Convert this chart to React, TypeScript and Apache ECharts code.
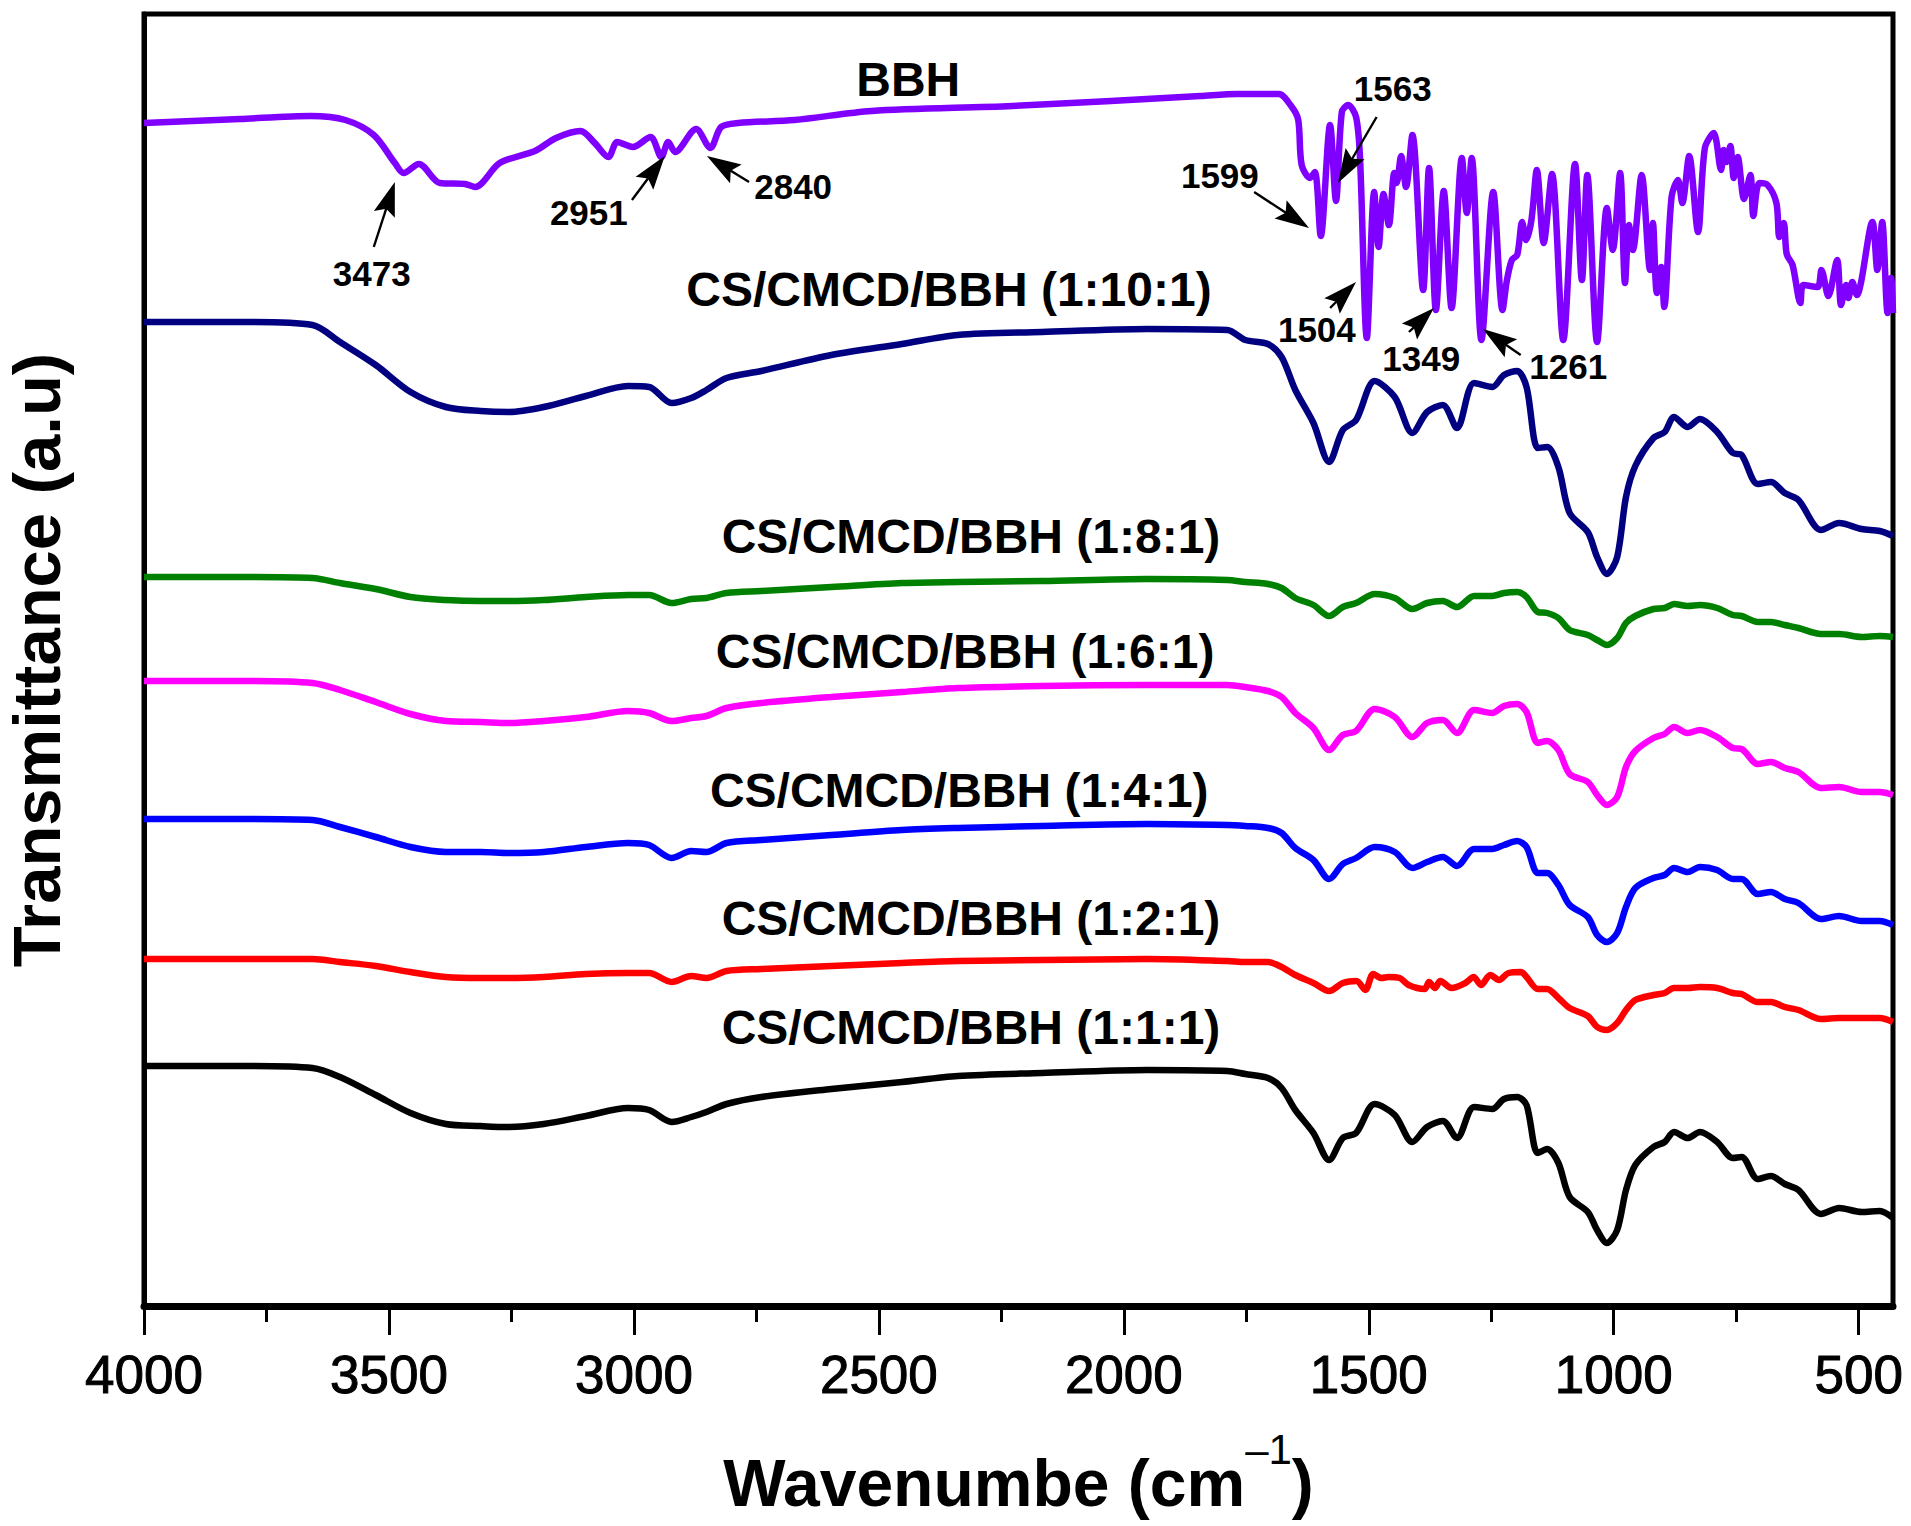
import React, { useEffect, useRef } from "react";
import * as echarts from "echarts";

const majorTicks = [4000, 3500, 3000, 2500, 2000, 1500, 1000, 500];
const minorTicks = [3750, 3250, 2750, 2250, 1750, 1250, 750];

const blendWavenumber = [4000,3786,3656,3600,3527,3456,3384,3313,3255,3184,3098,3012,2969,2923,2883,2852,2811,2740,2597,2453,2339,2167,1952,1789,1752,1706,1678,1650,1613,1581,1553,1526,1488,1447,1411,1381,1349,1320,1285,1248,1224,1197,1178,1155,1136,1113,1090,1053,1034,1014,993,975,956,919,896,877,849,824,789,757,739,706,679,651,623,577,540,494,457,430];
const blend1101 = [984,984,981,964,941,914,899,895,894,899,910,920,919,903,908,916,928,935,951,962,971,974,977,976,966,962,949,916,883,844,876,886,925,909,873,894,901,878,923,919,931,935,919,858,859,839,793,774,749,732,749,809,840,868,874,889,879,887,874,853,851,822,824,813,806,776,783,777,775,770];
const blend181 = [729,729,728,723,717,709,706,705,705,706,709,711,711,703,707,708,713,715,719,723,724,725,727,726,724,722,718,708,701,690,699,703,712,708,697,703,705,699,710,710,713,714,709,694,693,688,676,671,666,661,668,683,690,697,698,702,700,701,698,691,690,684,684,681,678,672,672,669,670,669];
const blend161 = [625,625,623,616,604,592,585,584,583,585,589,595,593,585,588,590,598,603,609,614,618,620,621,621,619,615,609,593,578,556,571,575,597,589,569,583,586,573,596,593,600,602,594,563,565,556,532,524,511,501,509,539,555,568,572,579,573,576,569,558,557,542,544,538,534,518,519,514,514,511];
const blend141 = [487,487,486,479,469,459,454,454,453,454,459,463,461,448,455,454,463,466,471,476,478,480,482,481,480,478,473,458,446,427,442,448,459,454,438,444,449,440,457,457,461,465,459,433,433,421,401,389,371,364,373,399,418,428,431,438,434,439,436,427,427,412,414,407,403,387,390,385,385,381];
const blend111 = [240,240,238,229,211,193,182,180,179,182,190,198,196,184,189,194,202,209,217,224,230,233,236,235,232,228,218,196,173,146,168,173,202,191,164,179,185,168,199,197,207,209,201,153,157,143,109,94,76,63,76,116,141,159,164,174,168,174,164,148,149,127,130,122,116,92,98,94,95,88];

const redWavenumber = [4000,3786,3656,3600,3527,3456,3384,3313,3255,3184,3098,3012,2969,2923,2883,2852,2811,2740,2597,2453,2339,2167,1952,1789,1752,1706,1678,1650,1613,1581,1553,1525,1507,1491,1474,1460,1437,1419,1386,1377,1365,1354,1331,1303,1286,1271,1252,1234,1215,1189,1178,1155,1136,1113,1090,1053,1034,1014,993,975,956,919,896,877,849,824,789,757,739,706,679,651,623,577,540,494,457,430];
const blend121 = [347,347,347,344,340,334,329,328,328,329,332,333,333,324,330,328,335,337,340,343,345,346,347,345,344,344,339,331,323,315,323,325,316,332,328,329,328,321,317,324,318,325,318,323,329,321,331,326,333,334,329,317,317,308,298,290,279,276,283,296,306,311,313,318,318,319,318,313,312,304,304,299,296,287,288,288,288,284];

const bbhWavenumber = [4000,3804,3660,3589,3531,3488,3470,3439,3396,3345,3324,3274,3202,3159,3109,3080,3052,3034,3002,2966,2944,2930,2916,2873,2844,2822,2787,2672,2515,2228,1844,1769,1684,1657,1644,1637,1620,1610,1598,1579,1567,1555,1542,1526,1518,1504,1489,1480,1470,1459,1448,1443,1434,1424,1411,1389,1377,1363,1347,1331,1310,1300,1290,1270,1246,1227,1218,1208,1197,1187,1179,1168,1157,1143,1126,1103,1079,1065,1054,1034,1014,1002,987,977,969,961,943,926,920,912,903,897,882,869,860,846,828,814,796,781,776,770,762,755,747,734,721,715,703,686,668,662,653,647,635,619,613,584,576,562,544,536,526,521,513,504,472,462,452,441,434,430];
const bbhValues = [1183,1187,1190,1186,1171,1143,1133,1142,1123,1122,1119,1143,1155,1168,1175,1163,1149,1164,1159,1169,1149,1164,1154,1177,1158,1179,1183,1186,1195,1200,1210,1212,1212,1199,1186,1141,1128,1134,1070,1181,1105,1194,1201,1189,1149,968,1114,1059,1112,1081,1133,1123,1150,1119,1171,1016,1138,996,1115,998,1148,1093,1148,966,1114,996,1026,1046,1051,1084,1066,1086,1136,1063,1132,966,1142,1026,1131,964,1098,1056,1133,1023,1081,1056,1131,1036,1083,1013,1039,999,1109,1126,1103,1150,1074,1158,1173,1136,1156,1144,1160,1128,1149,1107,1131,1090,1123,1121,1103,1069,1083,1052,1041,1003,1021,1019,1036,1010,1046,1001,1021,1008,1024,1011,1084,1036,1084,993,1028,993];

const seriesNames = ["CS/CMCD/BBH (1:1:1)", "CS/CMCD/BBH (1:2:1)", "CS/CMCD/BBH (1:4:1)", "CS/CMCD/BBH (1:6:1)", "CS/CMCD/BBH (1:8:1)", "CS/CMCD/BBH (1:10:1)", "BBH"];
const seriesColors = ["#000000", "#ff0000", "#0000ff", "#ff00ff", "#008000", "#000080", "#8000ff"];
const seriesValues = [blend111, blend121, blend141, blend161, blend181, blend1101, bbhValues];
const seriesWavenumbers = [blendWavenumber, redWavenumber, blendWavenumber, blendWavenumber, blendWavenumber, blendWavenumber, bbhWavenumber];
const labelX = [2312, 2312, 2336, 2324, 2312, 2357, 2440];
const labelY = [279, 388, 516, 655, 770, 1017, 1227];

const peakNames = ["3473", "2951", "2840", "1599", "1563", "1504", "1349", "1261"];
const peakLabelX = [3535, 3092, 2675, 1804, 1451, 1606, 1393, 1093];
const peakLabelY = [1033, 1094, 1120, 1131, 1218, 977, 948, 940];
const arrowTailX = [3531, 3004, 2765, 1734, 1484, 1579, 1418, 1190];
const arrowTailY = [1059, 1106, 1124, 1114, 1189, 998, 974, 951];
const arrowHeadX = [3488, 2937, 2851, 1622, 1563, 1526, 1367, 1267];
const arrowHeadY = [1124, 1150, 1150, 1078, 1123, 1024, 998, 977];

const FONT = "Liberation Sans";

function renderArrow(_params: any, api: any) {
  const a = api.coord([api.value(0), api.value(1)]);
  const b = api.coord([api.value(2), api.value(3)]);
  const dx = b[0] - a[0];
  const dy = b[1] - a[1];
  const len = Math.hypot(dx, dy) || 1;
  const ux = dx / len;
  const uy = dy / len;
  const headLen = 34;
  const headHalf = 11;
  const notch = 28;
  const bx = b[0] - ux * headLen;
  const by = b[1] - uy * headLen;
  return {
    type: "group",
    children: [
      {
        type: "line",
        shape: { x1: a[0], y1: a[1], x2: b[0] - ux * 20, y2: b[1] - uy * 20 },
        style: { stroke: "#000", lineWidth: 2.4 },
      },
      {
        type: "polygon",
        shape: {
          points: [
            [b[0], b[1]],
            [bx - uy * headHalf, by + ux * headHalf],
            [b[0] - ux * notch, b[1] - uy * notch],
            [bx + uy * headHalf, by - ux * headHalf],
          ],
        },
        style: { fill: "#000" },
      },
    ],
  };
}

export default function App() {
  const ref = useRef<HTMLDivElement | null>(null);
  useEffect(() => {
    const chart = echarts.init(ref.current as HTMLDivElement, undefined, { renderer: "svg" });
    const lines = seriesNames.map((name, i) => ({
      type: "line",
      name,
      data: seriesWavenumbers[i].map((w, j) => [w, seriesValues[i][j]]),
      showSymbol: false,
      smooth: 0.3,
      lineStyle: { color: seriesColors[i], width: 6.5, join: "round" },
      itemStyle: { color: seriesColors[i] },
      silent: true,
      z: 3,
    }));
    const textLabel = (fontSize: number) => ({
      show: true,
      position: [0, 0],
      align: "center",
      verticalAlign: "middle",
      formatter: "{b}",
      fontFamily: FONT,
      fontWeight: "bold",
      fontSize,
      color: "#000000",
      opacity: 1,
    });
    chart.setOption({
      animation: false,
      backgroundColor: "#fff",
      grid: { left: 144, right: 18, top: 14, bottom: 220, show: true, borderColor: "#000", borderWidth: 5, backgroundColor: "transparent", containLabel: false, outerBoundsMode: "none" },
      xAxis: [
        {
          type: "value",
          inverse: true,
          min: 430,
          max: 4000,
          position: "bottom",
          splitLine: { show: false },
          axisLine: { show: true, onZero: false, lineStyle: { color: "#000", width: 7 } },
          axisTick: { show: true, customValues: majorTicks, length: 29, lineStyle: { color: "#000", width: 3 } },
          axisLabel: { show: true, customValues: majorTicks, formatter: (v: number) => String(v), hideOverlap: false, margin: 42, color: "#000", fontFamily: FONT, fontSize: 53, textBorderColor: "#000", textBorderWidth: 1 },
          name: "{a|Wavenumbe (cm}{s|–1}{a|)}",
          nameLocation: "middle",
          nameGap: 122,
          nameTextStyle: {
            rich: {
              a: { fontFamily: FONT, fontWeight: "bold", fontSize: 66, color: "#000", lineHeight: 110 },
              s: { fontFamily: FONT, fontSize: 42, color: "#000", verticalAlign: "top", lineHeight: 42 },
            },
          },
        },
        {
          type: "value",
          inverse: true,
          min: 430,
          max: 4000,
          position: "bottom",
          splitLine: { show: false },
          axisLine: { show: false, onZero: false },
          axisTick: { show: true, customValues: minorTicks, length: 16, lineStyle: { color: "#000", width: 3 } },
          axisLabel: { show: false },
        },
      ],
      yAxis: {
        type: "value",
        min: 0,
        max: 1292,
        splitLine: { show: false },
        axisLine: { show: true, onZero: false, lineStyle: { color: "#000", width: 5 } },
        axisTick: { show: false },
        axisLabel: { show: false },
        name: "Transmittance (a.u)",
        nameLocation: "middle",
        nameRotate: 90,
        nameGap: 74,
        nameTextStyle: { fontFamily: FONT, fontWeight: "bold", fontSize: 67, color: "#000" },
      },
      series: [
        ...lines,
        {
          type: "custom",
          silent: true,
          renderItem: renderArrow,
          encode: { x: [0, 2], y: [1, 3] },
          data: peakNames.map((_, i) => [arrowTailX[i], arrowTailY[i], arrowHeadX[i], arrowHeadY[i]]),
          z: 5,
          clip: false,
        },
        {
          type: "scatter",
          silent: true,
          symbolSize: 0,
          itemStyle: { opacity: 1 },
          data: seriesNames.map((name, i) => ({ name, value: [labelX[i], labelY[i]] })),
          label: textLabel(48),
          z: 6,
        },
        {
          type: "scatter",
          silent: true,
          symbolSize: 0,
          itemStyle: { opacity: 1 },
          data: peakNames.map((name, i) => ({ name, value: [peakLabelX[i], peakLabelY[i]] })),
          label: textLabel(35),
          z: 6,
        },
      ],
    });
    return () => chart.dispose();
  }, []);
  return <div ref={ref} style={{ position: "fixed", left: 0, top: 0, width: 1911, height: 1526 }} />;
}
